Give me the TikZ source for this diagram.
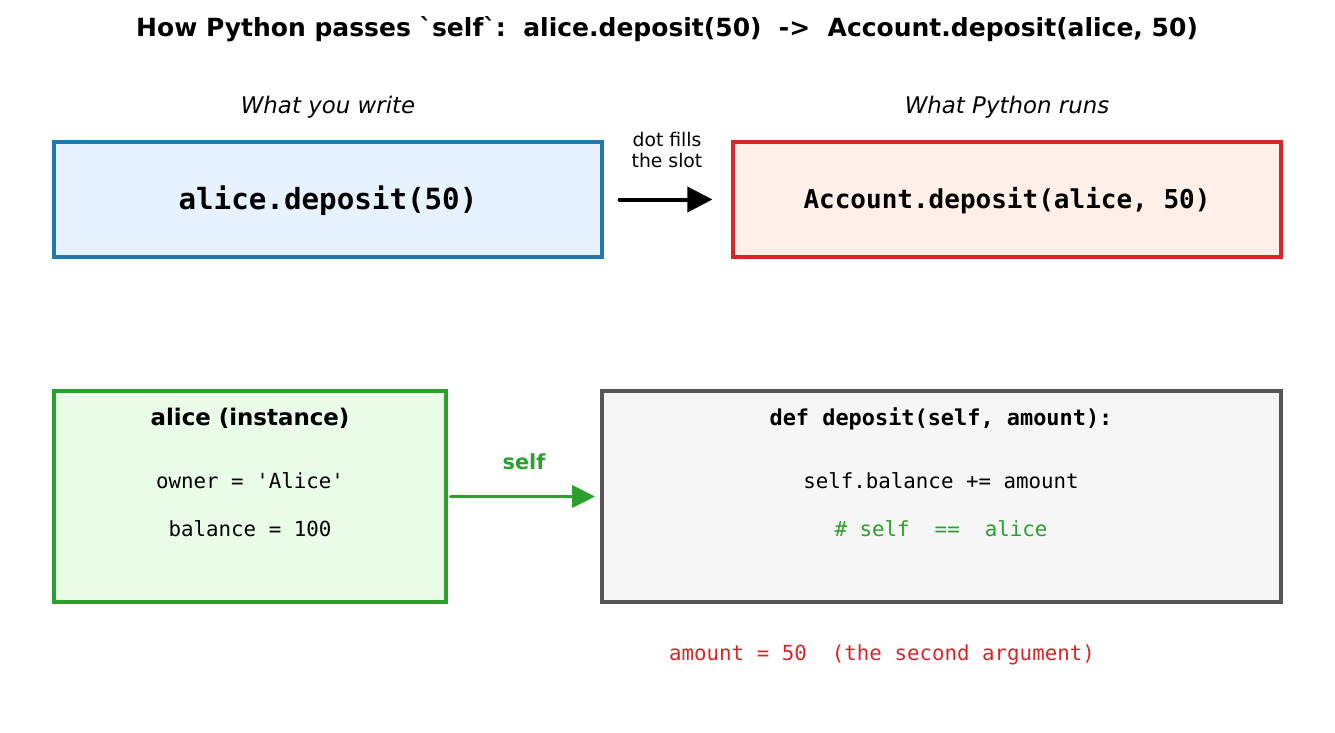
\documentclass[tikz,border=0pt]{standalone}
\usepackage{fontspec}
\setmainfont{DejaVu Sans}
\setmonofont{DejaVu Sans Mono}
\usetikzlibrary{arrows.meta}
\newcommand{\fsz}[1]{\fontsize{#1}{#1}\selectfont}
\newcommand{\code}[1]{\texttt{#1}}
\newcommand{\bqt}{\XeTeXglyph\the\XeTeXcharglyph"60\relax}
\definecolor{callblue}{HTML}{1F77B4}
\definecolor{callbluebg}{HTML}{E6F2FF}
\definecolor{runred}{HTML}{D62728}
\definecolor{runredbg}{HTML}{FEF0E8}
\definecolor{objgreen}{HTML}{2CA02C}
\definecolor{objgreenbg}{HTML}{E8FCE8}
\definecolor{defgray}{HTML}{555555}
\definecolor{defgraybg}{HTML}{F6F6F6}
\tikzset{
	panel/.style={draw, line width=3.2pt, inner sep=0pt},
	txt/.style={anchor=base, inner sep=0pt},
	passarrow/.style={line width=#1, line cap=round, -{Triangle[length=25pt,width=25pt]}},
}

\begin{document}
\begin{tikzpicture}[x=1pt,y=-1pt]
		\useasboundingbox (0,0) rectangle (1335,732);
		\node (WR) at (328,199.5) 
			[panel, draw=callblue, fill=callbluebg, minimum width=548pt, minimum height=115pt] {};
		\node (RN) at (1007,199.5) 
			[panel, draw=runred, fill=runredbg, minimum width=548pt, minimum height=115pt] {};
		\node (AL) at (250,496.5) 
			[panel, draw=objgreen, fill=objgreenbg, minimum width=392pt, minimum height=211pt] {};
		\node (DF) at (941.5,496.5) 
			[panel, draw=defgray, fill=defgraybg, line width=3.8pt, minimum width=679pt, minimum height=211pt] {};
		\node (TT) at (667,36) [txt]
			{\fsz{25}\bfseries How Python passes \bqt self\bqt:~~alice.deposit(50)~~->~~Account.deposit(alice, 50)};
		\node (HW) at (328,113) [txt] {\fsz{22.9}\itshape What you write};
		\node (HR) at (1007,113) [txt] {\fsz{22.9}\itshape What Python runs};
		\node (D1) at (667,146) [txt] {\fsz{18.8}dot fills};
		\node (D2) at (667,167) [txt] {\fsz{18.8}the slot};
		\node (CW) at (328,209) [txt] {\fsz{29.2}\bfseries\code{alice.deposit(50)}};
		\node (CR) at (1007,208) [txt] {\fsz{26}\bfseries\code{Account.deposit(alice, 50)}};
		\node (A0) at (250,425) [txt] {\fsz{22.9}\bfseries alice (instance)};
		\node (A1) at (250,488) [txt] {\fsz{20.8}\code{owner = 'Alice'}};
		\node (A2) at (250,536) [txt] {\fsz{20.8}\code{balance = 100}};
		\node (F0) at (941,425) [txt] {\fsz{21.9}\bfseries\code{def deposit(self, amount):}};
		\node (F1) at (941,488) [txt] {\fsz{20.8}\code{self.balance += amount}};
		\node (F2) at (941,536) [txt] {\fsz{20.8}\color{objgreen}\code{\#~self~~==~~alice}};
		\node (AM) at (882,660) [txt] {\fsz{20.8}\color{runred}\code{amount = 50~~(the second argument)}};
		\node (SL) at (524,469) [txt] {\fsz{20.8}\bfseries\color{objgreen}self};
		\draw [passarrow=4pt, shorten <=16pt, shorten >=19pt] (WR.east) to (RN.west);
		\draw [passarrow=3.6pt, draw=objgreen, fill=objgreen, shorten <=3pt, shorten >=5pt,
			-{Triangle[length=23pt,width=22pt]}] (AL.east) to (DF.west);
	\end{tikzpicture}
\end{document}
